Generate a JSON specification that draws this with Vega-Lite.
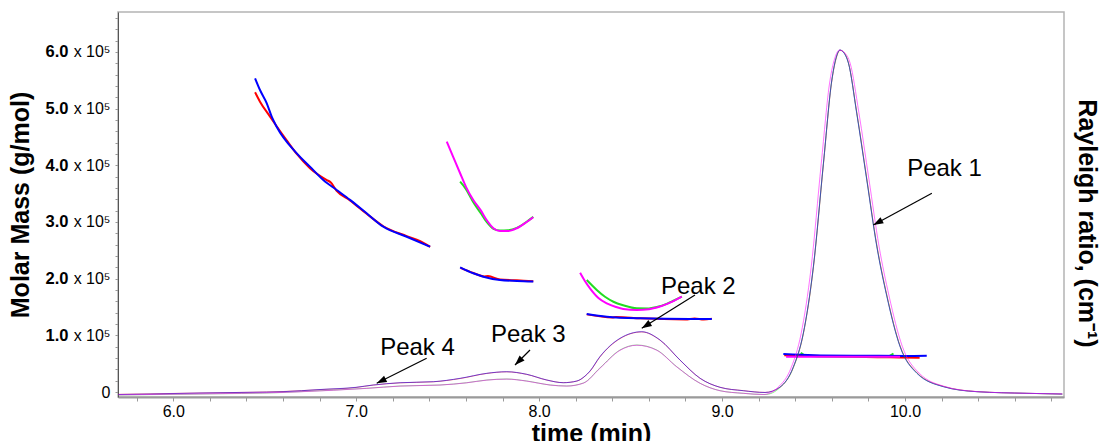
{
  "$schema": "https://vega.github.io/schema/vega-lite/v6.json",
  "width": 946,
  "height": 385,
  "autosize": "none",
  "padding": {"left": 118, "top": 12, "right": 36, "bottom": 44},
  "background": "white",
  "config": {"font": "Liberation Sans", "view": {"stroke": "#b4b4b4", "strokeWidth": 1.5}, "axis": {"labelOverlap": false}},
  "datasets": {
    "mm": [
      {"s":"1","g":"A","t":6.447,"m":528900},{"s":"1","g":"A","t":6.474,"m":512300},{"s":"1","g":"A","t":6.529,"m":485800},{"s":"1","g":"A","t":6.565,"m":469000},{"s":"1","g":"A","t":6.62,"m":444000},{"s":"1","g":"A","t":6.675,"m":420000},{"s":"1","g":"A","t":6.747,"m":395000},{"s":"1","g":"A","t":6.839,"m":374000},{"s":"1","g":"A","t":6.86,"m":370000},{"s":"1","g":"A","t":6.893,"m":355000},{"s":"1","g":"A","t":6.966,"m":338000},{"s":"1","g":"A","t":7.057,"m":314500},{"s":"1","g":"A","t":7.148,"m":292500},{"s":"1","g":"A","t":7.276,"m":275000},{"s":"1","g":"A","t":7.35,"m":266000},{"s":"1","g":"A","t":7.404,"m":256000},
      {"s":"1","g":"B","t":7.57,"m":219000},{"s":"1","g":"B","t":7.64,"m":210000},{"s":"1","g":"B","t":7.7,"m":204000},{"s":"1","g":"B","t":7.72,"m":204500},{"s":"1","g":"B","t":7.786,"m":198500},{"s":"1","g":"B","t":7.878,"m":197000},{"s":"1","g":"B","t":7.968,"m":195500},
      {"s":"1","g":"E","t":8.26,"m":137000},{"s":"1","g":"E","t":8.4,"m":131500},{"s":"1","g":"E","t":8.42,"m":132500},{"s":"1","g":"E","t":8.552,"m":130000},{"s":"1","g":"E","t":8.8,"m":128000},{"s":"1","g":"E","t":8.85,"m":129800},{"s":"1","g":"E","t":8.9,"m":128000},{"s":"1","g":"E","t":8.944,"m":129500},
      {"s":"1","g":"F","t":9.34,"m":65000},{"s":"1","g":"F","t":9.6,"m":63000},{"s":"1","g":"F","t":9.85,"m":61500},{"s":"1","g":"F","t":9.973,"m":61000},{"s":"1","g":"F","t":10.08,"m":60500},
      {"s":"2","g":"C","t":7.568,"m":371100},{"s":"2","g":"C","t":7.6,"m":358000},{"s":"2","g":"C","t":7.64,"m":335000},{"s":"2","g":"C","t":7.68,"m":316000},{"s":"2","g":"C","t":7.713,"m":300000},{"s":"2","g":"C","t":7.75,"m":288000},{"s":"2","g":"C","t":7.786,"m":285000},{"s":"2","g":"C","t":7.83,"m":285500},{"s":"2","g":"C","t":7.878,"m":289500},{"s":"2","g":"C","t":7.932,"m":300500},{"s":"2","g":"C","t":7.968,"m":309000},
      {"s":"2","g":"D","t":8.26,"m":197600},{"s":"2","g":"D","t":8.315,"m":180000},{"s":"2","g":"D","t":8.36,"m":168000},{"s":"2","g":"D","t":8.406,"m":159300},{"s":"2","g":"D","t":8.46,"m":153000},{"s":"2","g":"D","t":8.534,"m":147700},{"s":"2","g":"D","t":8.6,"m":147500},{"s":"2","g":"D","t":8.643,"m":150000},{"s":"2","g":"D","t":8.7,"m":156000},{"s":"2","g":"D","t":8.734,"m":161000},{"s":"2","g":"D","t":8.78,"m":168200},
      {"s":"2","g":"F","t":9.43,"m":69000},{"s":"2","g":"F","t":9.46,"m":64000},{"s":"2","g":"F","t":9.6,"m":62500},{"s":"2","g":"F","t":9.9,"m":62500},{"s":"2","g":"F","t":9.937,"m":68000},
      {"s":"3","g":"A","t":6.447,"m":553600},{"s":"3","g":"A","t":6.474,"m":532900},{"s":"3","g":"A","t":6.511,"m":509400},{"s":"3","g":"A","t":6.538,"m":485800},{"s":"3","g":"A","t":6.565,"m":468000},{"s":"3","g":"A","t":6.675,"m":421000},{"s":"3","g":"A","t":6.747,"m":397600},{"s":"3","g":"A","t":6.82,"m":374000},{"s":"3","g":"A","t":6.893,"m":356500},{"s":"3","g":"A","t":6.966,"m":339000},{"s":"3","g":"A","t":7.057,"m":315300},{"s":"3","g":"A","t":7.148,"m":291700},{"s":"3","g":"A","t":7.276,"m":274000},{"s":"3","g":"A","t":7.404,"m":256400},
      {"s":"3","g":"B","t":7.568,"m":220000},{"s":"3","g":"B","t":7.64,"m":209500},{"s":"3","g":"B","t":7.695,"m":203500},{"s":"3","g":"B","t":7.786,"m":197600},{"s":"3","g":"B","t":7.878,"m":195900},{"s":"3","g":"B","t":7.968,"m":195000},
      {"s":"3","g":"E","t":8.26,"m":137600},{"s":"3","g":"E","t":8.37,"m":132900},{"s":"3","g":"E","t":8.552,"m":130000},{"s":"3","g":"E","t":8.825,"m":128800},{"s":"3","g":"E","t":8.944,"m":128800},
      {"s":"3","g":"F","t":9.335,"m":67100},{"s":"3","g":"F","t":9.5,"m":65000},{"s":"3","g":"F","t":9.8,"m":64000},{"s":"3","g":"F","t":10.0,"m":63500},{"s":"3","g":"F","t":10.119,"m":64000},
      {"s":"4","g":"C","t":7.495,"m":441700},{"s":"4","g":"C","t":7.53,"m":415000},{"s":"4","g":"C","t":7.568,"m":386000},{"s":"4","g":"C","t":7.6,"m":362000},{"s":"4","g":"C","t":7.64,"m":338800},{"s":"4","g":"C","t":7.68,"m":321000},{"s":"4","g":"C","t":7.713,"m":303500},{"s":"4","g":"C","t":7.75,"m":289000},{"s":"4","g":"C","t":7.786,"m":284100},{"s":"4","g":"C","t":7.83,"m":284000},{"s":"4","g":"C","t":7.878,"m":288900},{"s":"4","g":"C","t":7.932,"m":300000},{"s":"4","g":"C","t":7.968,"m":308500},
      {"s":"4","g":"D","t":8.224,"m":210500},{"s":"4","g":"D","t":8.25,"m":196000},{"s":"4","g":"D","t":8.278,"m":183000},{"s":"4","g":"D","t":8.324,"m":166000},{"s":"4","g":"D","t":8.37,"m":156500},{"s":"4","g":"D","t":8.42,"m":150000},{"s":"4","g":"D","t":8.46,"m":146500},{"s":"4","g":"D","t":8.534,"m":144700},{"s":"4","g":"D","t":8.6,"m":146000},{"s":"4","g":"D","t":8.643,"m":149000},{"s":"4","g":"D","t":8.7,"m":155500},{"s":"4","g":"D","t":8.734,"m":160500},{"s":"4","g":"D","t":8.78,"m":168200},
      {"s":"4","g":"F","t":9.35,"m":62300},{"s":"4","g":"F","t":9.6,"m":62200},{"s":"4","g":"F","t":9.8,"m":62200},{"s":"4","g":"F","t":9.973,"m":62300}
    ],
    "ls": [
      {"s":"1","t":5.7,"r":-0.001},{"s":"1","t":5.873,"r":0.0005},{"s":"1","t":6.146,"r":0.003},{"s":"1","t":6.419,"r":0.005},{"s":"1","t":6.6,"r":0.0072},{"s":"1","t":6.802,"r":0.0128},{"s":"1","t":6.999,"r":0.019},{"s":"1","t":7.093,"r":0.026},{"s":"1","t":7.24,"r":0.0325},{"s":"1","t":7.422,"r":0.0355},{"s":"1","t":7.568,"r":0.045},{"s":"1","t":7.714,"r":0.0598},{"s":"1","t":7.823,"r":0.0645},{"s":"1","t":7.932,"r":0.057},{"s":"1","t":8.042,"r":0.0405},{"s":"1","t":8.132,"r":0.033},{"s":"1","t":8.206,"r":0.0375},{"s":"1","t":8.251,"r":0.052},{"s":"1","t":8.278,"r":0.066},{"s":"1","t":8.332,"r":0.1075},{"s":"1","t":8.387,"r":0.139},{"s":"1","t":8.442,"r":0.161},{"s":"1","t":8.561,"r":0.1805},{"s":"1","t":8.661,"r":0.1565},{"s":"1","t":8.77,"r":0.0985},{"s":"1","t":8.88,"r":0.0455},{"s":"1","t":8.989,"r":0.0195},{"s":"1","t":9.116,"r":0.0098},{"s":"1","t":9.235,"r":0.0046},{"s":"1","t":9.317,"r":0.02},{"s":"1","t":9.39,"r":0.078},{"s":"1","t":9.444,"r":0.174},{"s":"1","t":9.499,"r":0.366},{"s":"1","t":9.554,"r":0.667},{"s":"1","t":9.6,"r":0.91},{"s":"1","t":9.622,"r":0.972},{"s":"1","t":9.645,"r":0.999},{"s":"1","t":9.668,"r":0.992},{"s":"1","t":9.691,"r":0.963},{"s":"1","t":9.736,"r":0.82},{"s":"1","t":9.791,"r":0.627},{"s":"1","t":9.846,"r":0.433},{"s":"1","t":9.901,"r":0.287},{"s":"1","t":9.973,"r":0.14},{"s":"1","t":10.065,"r":0.062},{"s":"1","t":10.21,"r":0.022},{"s":"1","t":10.393,"r":0.007},{"s":"1","t":10.666,"r":0.002},{"s":"1","t":10.86,"r":0.0},
      {"s":"2","t":5.7,"r":-0.0029},{"s":"2","t":6.146,"r":0.0},{"s":"2","t":6.6,"r":0.0044},{"s":"2","t":6.693,"r":0.0067},{"s":"2","t":7.057,"r":0.0166},{"s":"2","t":7.24,"r":0.0233},{"s":"2","t":7.458,"r":0.0262},{"s":"2","t":7.604,"r":0.0328},{"s":"2","t":7.714,"r":0.0407},{"s":"2","t":7.823,"r":0.0436},{"s":"2","t":7.932,"r":0.0378},{"s":"2","t":8.06,"r":0.0262},{"s":"2","t":8.151,"r":0.0233},{"s":"2","t":8.242,"r":0.032},{"s":"2","t":8.332,"r":0.0756},{"s":"2","t":8.442,"r":0.1279},{"s":"2","t":8.534,"r":0.1424},{"s":"2","t":8.643,"r":0.1279},{"s":"2","t":8.752,"r":0.0794},{"s":"2","t":8.88,"r":0.0311},{"s":"2","t":8.989,"r":0.0096},{"s":"2","t":9.116,"r":0.002},{"s":"2","t":9.235,"r":-0.0015},{"s":"2","t":9.317,"r":0.019},{"s":"2","t":9.39,"r":0.077},{"s":"2","t":9.444,"r":0.175},{"s":"2","t":9.499,"r":0.368},{"s":"2","t":9.554,"r":0.669},{"s":"2","t":9.6,"r":0.912},{"s":"2","t":9.622,"r":0.974},{"s":"2","t":9.645,"r":1.0},{"s":"2","t":9.668,"r":0.991},{"s":"2","t":9.691,"r":0.962},{"s":"2","t":9.736,"r":0.818},{"s":"2","t":9.791,"r":0.624},{"s":"2","t":9.846,"r":0.43},{"s":"2","t":9.901,"r":0.285},{"s":"2","t":9.973,"r":0.139},{"s":"2","t":10.065,"r":0.061},{"s":"2","t":10.21,"r":0.0215},{"s":"2","t":10.393,"r":0.0067},{"s":"2","t":10.666,"r":0.002},{"s":"2","t":10.86,"r":-0.0005},
      {"s":"3","t":5.7,"r":-0.0015},{"s":"3","t":5.873,"r":0.0},{"s":"3","t":6.146,"r":0.0029},{"s":"3","t":6.419,"r":0.0049},{"s":"3","t":6.6,"r":0.0067},{"s":"3","t":6.802,"r":0.0131},{"s":"3","t":6.999,"r":0.0195},{"s":"3","t":7.093,"r":0.0262},{"s":"3","t":7.24,"r":0.0328},{"s":"3","t":7.422,"r":0.0358},{"s":"3","t":7.568,"r":0.0456},{"s":"3","t":7.714,"r":0.0602},{"s":"3","t":7.823,"r":0.0648},{"s":"3","t":7.932,"r":0.0573},{"s":"3","t":8.042,"r":0.0407},{"s":"3","t":8.132,"r":0.0328},{"s":"3","t":8.206,"r":0.0378},{"s":"3","t":8.251,"r":0.0523},{"s":"3","t":8.278,"r":0.0669},{"s":"3","t":8.332,"r":0.1084},{"s":"3","t":8.387,"r":0.14},{"s":"3","t":8.442,"r":0.1619},{"s":"3","t":8.561,"r":0.1811},{"s":"3","t":8.661,"r":0.157},{"s":"3","t":8.77,"r":0.0988},{"s":"3","t":8.88,"r":0.0456},{"s":"3","t":8.989,"r":0.0195},{"s":"3","t":9.116,"r":0.0096},{"s":"3","t":9.235,"r":0.0044},{"s":"3","t":9.317,"r":0.0203},{"s":"3","t":9.39,"r":0.0794},{"s":"3","t":9.444,"r":0.1765},{"s":"3","t":9.499,"r":0.3701},{"s":"3","t":9.554,"r":0.6706},{"s":"3","t":9.6,"r":0.9128},{"s":"3","t":9.622,"r":0.975},{"s":"3","t":9.645,"r":1.0},{"s":"3","t":9.668,"r":0.99},{"s":"3","t":9.691,"r":0.9613},{"s":"3","t":9.736,"r":0.816},{"s":"3","t":9.791,"r":0.6221},{"s":"3","t":9.846,"r":0.4282},{"s":"3","t":9.901,"r":0.2829},{"s":"3","t":9.973,"r":0.1375},{"s":"3","t":10.065,"r":0.0602},{"s":"3","t":10.21,"r":0.0212},{"s":"3","t":10.393,"r":0.0067},{"s":"3","t":10.666,"r":0.002},{"s":"3","t":10.86,"r":0.0},
      {"s":"4","t":5.7,"r":-0.0025},{"s":"4","t":6.146,"r":0.0003},{"s":"4","t":6.6,"r":0.0046},{"s":"4","t":6.693,"r":0.0065},{"s":"4","t":7.057,"r":0.0163},{"s":"4","t":7.24,"r":0.023},{"s":"4","t":7.458,"r":0.026},{"s":"4","t":7.604,"r":0.0325},{"s":"4","t":7.714,"r":0.0404},{"s":"4","t":7.823,"r":0.0433},{"s":"4","t":7.932,"r":0.0375},{"s":"4","t":8.06,"r":0.026},{"s":"4","t":8.151,"r":0.023},{"s":"4","t":8.242,"r":0.0315},{"s":"4","t":8.332,"r":0.0745},{"s":"4","t":8.442,"r":0.127},{"s":"4","t":8.534,"r":0.1418},{"s":"4","t":8.643,"r":0.1272},{"s":"4","t":8.752,"r":0.079},{"s":"4","t":8.88,"r":0.031},{"s":"4","t":8.989,"r":0.0095},{"s":"4","t":9.116,"r":0.002},{"s":"4","t":9.225,"r":-0.0015},{"s":"4","t":9.305,"r":0.019},{"s":"4","t":9.378,"r":0.077},{"s":"4","t":9.432,"r":0.175},{"s":"4","t":9.487,"r":0.368},{"s":"4","t":9.542,"r":0.669},{"s":"4","t":9.59,"r":0.912},{"s":"4","t":9.615,"r":0.974},{"s":"4","t":9.642,"r":1.0},{"s":"4","t":9.672,"r":0.991},{"s":"4","t":9.7,"r":0.962},{"s":"4","t":9.748,"r":0.818},{"s":"4","t":9.803,"r":0.624},{"s":"4","t":9.858,"r":0.43},{"s":"4","t":9.913,"r":0.285},{"s":"4","t":9.985,"r":0.139},{"s":"4","t":10.077,"r":0.061},{"s":"4","t":10.22,"r":0.0215},{"s":"4","t":10.4,"r":0.0067},{"s":"4","t":10.666,"r":0.002},{"s":"4","t":10.86,"r":0.0}
    ],
    "peaks": [
      {"label":"Peak 1","tx":10.216,"ty":0.6337,"x1":10.147,"y1":0.5834,"x2":9.827,"y2":0.4913},
      {"label":"Peak 2","tx":8.87,"ty":0.2898,"x1":8.852,"y1":0.2878,"x2":8.561,"y2":0.191},
      {"label":"Peak 3","tx":7.941,"ty":0.152,"x1":7.95,"y1":0.1279,"x2":7.868,"y2":0.0843},
      {"label":"Peak 4","tx":7.335,"ty":0.1134,"x1":7.385,"y1":0.1038,"x2":7.112,"y2":0.0311}
    ]
  },
  "resolve": {"scale": {"y": "independent"}, "axis": {"y": "independent", "x": "independent"}},
  "layer": [
    {
      "data": {"name": "mm"},
      "mark": {"type": "line", "strokeWidth": 2, "interpolate": "monotone", "clip": true},
      "encoding": {
        "x": {"field": "t", "type": "quantitative",
          "scale": {"domain": [5.6977, 10.8693], "nice": false, "zero": false},
          "axis": {"values": [5.8,6.0,6.2,6.4,6.6,6.8,7.0,7.2,7.4,7.6,7.8,8.0,8.2,8.4,8.6,8.8,9.0,9.2,9.4,9.6,9.8,10.0,10.2,10.4,10.6,10.8],
            "labelExpr": "abs(datum.value - round(datum.value)) < 0.01 ? format(datum.value, '.1f') : ''",
            "labelOverlap": false, "labelFlush": false, "grid": false,
            "tickSize": 4, "tickColor": "#9a9a9a", "domainColor": "#9a9a9a", "domainWidth": 2,
            "labelFontSize": 16, "labelColor": "#000000", "labelPadding": 2,
            "title": "time (min)", "titleFontSize": 25, "titleFontWeight": "bold", "titleColor": "#000000", "titlePadding": 2}},
        "y": {"field": "m", "type": "quantitative",
          "scale": {"domain": [-8800, 670500], "nice": false, "zero": false},
          "axis": {"orient": "left",
            "values": [0,20000,40000,60000,80000,100000,120000,140000,160000,180000,200000,220000,240000,260000,280000,300000,320000,340000,360000,380000,400000,420000,440000,460000,480000,500000,520000,540000,560000,580000,600000,620000,640000,660000],
            "labelExpr": "datum.value > 0 && datum.value % 100000 == 0 ? format(datum.value / 100000, '.1f') : ''",
            "labelOverlap": false, "labelFontWeight": "bold", "labelFontSize": 16.5, "labelColor": "#000000", "labelPadding": 47,
            "grid": false, "tickSize": 3, "tickColor": "#9a9a9a", "domainColor": "#555555", "domainWidth": 1,
            "title": "Molar Mass (g/mol)", "titleFontSize": 25, "titleFontWeight": "bold", "titleColor": "#000000", "titlePadding": 12}},
        "color": {"field": "s", "type": "nominal", "scale": {"domain": ["1","2","3","4"], "range": ["#ff0000","#22dd22","#0000ff","#ff00ff"]}, "legend": null},
        "detail": {"field": "g"}
      }
    },
    {
      "layer": [
        {
          "data": {"name": "ls"},
          "mark": {"type": "line", "strokeWidth": 1, "opacity": 0.55, "interpolate": "monotone", "clip": true},
          "encoding": {
            "x": {"field": "t", "type": "quantitative", "scale": {"domain": [5.6977, 10.8693], "nice": false, "zero": false}, "axis": null},
            "y": {"field": "r", "type": "quantitative",
              "scale": {"domain": [-0.0087, 1.1105], "nice": false, "zero": false},
              "axis": {"orient": "right", "labels": false, "ticks": false, "domain": false, "grid": false,
                "title": "Rayleigh ratio, (cm⁻¹)", "titleFontSize": 25, "titleFontWeight": "bold", "titleColor": "#000000", "titlePadding": 9, "titleY": 211}},
            "color": {"field": "s", "type": "nominal", "scale": {"domain": ["1","2","3","4"], "range": ["#ff0000","#22dd22","#0000ff","#ff00ff"]}, "legend": null}
          }
        },
        {
          "data": {"name": "peaks"},
          "mark": {"type": "rule", "color": "#000000", "strokeWidth": 1.2},
          "encoding": {
            "x": {"field": "x1", "type": "quantitative", "scale": {"domain": [5.6977, 10.8693], "nice": false, "zero": false}, "axis": null},
            "y": {"field": "y1", "type": "quantitative"},
            "x2": {"field": "x2"},
            "y2": {"field": "y2"}
          }
        },
        {
          "data": {"name": "peaks"},
          "mark": {"type": "text", "fontSize": 24, "color": "#000000", "align": "center", "baseline": "alphabetic"},
          "encoding": {
            "x": {"field": "tx", "type": "quantitative", "scale": {"domain": [5.6977, 10.8693], "nice": false, "zero": false}, "axis": null},
            "y": {"field": "ty", "type": "quantitative"},
            "text": {"field": "label"}
          }
        },
        {
          "data": {"name": "peaks"},
          "transform": [{"filter": "datum.label == 'Peak 1'"}],
          "mark": {"type": "point", "shape": "M0,0L-0.35,1L0.35,1Z", "size": 400, "filled": true, "color": "#000000", "opacity": 1, "angle": 241.5},
          "encoding": {
            "x": {"field": "x2", "type": "quantitative", "scale": {"domain": [5.6977, 10.8693], "nice": false, "zero": false}, "axis": null},
            "y": {"field": "y2", "type": "quantitative"}
          }
        },
        {
          "data": {"name": "peaks"},
          "transform": [{"filter": "datum.label == 'Peak 2'"}],
          "mark": {"type": "point", "shape": "M0,0L-0.35,1L0.35,1Z", "size": 400, "filled": true, "color": "#000000", "opacity": 1, "angle": 238},
          "encoding": {
            "x": {"field": "x2", "type": "quantitative", "scale": {"domain": [5.6977, 10.8693], "nice": false, "zero": false}, "axis": null},
            "y": {"field": "y2", "type": "quantitative"}
          }
        },
        {
          "data": {"name": "peaks"},
          "transform": [{"filter": "datum.label == 'Peak 3'"}],
          "mark": {"type": "point", "shape": "M0,0L-0.35,1L0.35,1Z", "size": 400, "filled": true, "color": "#000000", "opacity": 1, "angle": 225},
          "encoding": {
            "x": {"field": "x2", "type": "quantitative", "scale": {"domain": [5.6977, 10.8693], "nice": false, "zero": false}, "axis": null},
            "y": {"field": "y2", "type": "quantitative"}
          }
        },
        {
          "data": {"name": "peaks"},
          "transform": [{"filter": "datum.label == 'Peak 4'"}],
          "mark": {"type": "point", "shape": "M0,0L-0.35,1L0.35,1Z", "size": 400, "filled": true, "color": "#000000", "opacity": 1, "angle": 243.4},
          "encoding": {
            "x": {"field": "x2", "type": "quantitative", "scale": {"domain": [5.6977, 10.8693], "nice": false, "zero": false}, "axis": null},
            "y": {"field": "y2", "type": "quantitative"}
          }
        }
      ]
    },
    {
      "data": {"name": "mm"},
      "mark": {"type": "line", "opacity": 0},
      "encoding": {
        "x": {"field": "t", "type": "quantitative", "scale": {"domain": [5.6977, 10.8693], "nice": false, "zero": false}, "axis": null},
        "y": {"field": "m", "type": "quantitative",
          "scale": {"domain": [-8800, 670500], "nice": false, "zero": false},
          "axis": {"orient": "left", "values": [0,100000,200000,300000,400000,500000,600000],
            "labelExpr": "datum.value == 0 ? '0\u00a0' : 'x 10⁵'",
            "labelAlign": "right", "labelPadding": 8, "labelFontSize": 16, "labelFontWeight": "normal", "labelColor": "#000000",
            "labelOverlap": false, "ticks": false, "tickSize": 0, "domain": false, "grid": false, "title": null}},
        "detail": {"field": "g"}
      }
    }
  ]
}
